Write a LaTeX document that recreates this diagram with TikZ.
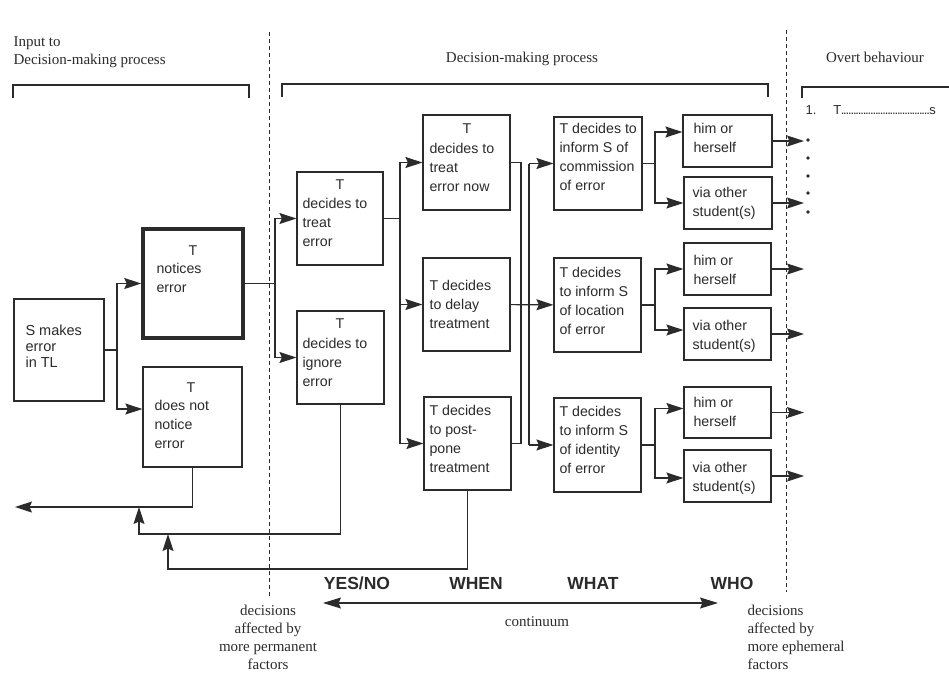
\documentclass[tikz,border=0pt]{standalone}
\usepackage{fontspec}
\setmainfont{Liberation Serif}
\setsansfont{Liberation Sans}
\usetikzlibrary{arrows.meta}
\definecolor{ink}{HTML}{2B2B2B}
\newcommand\bxfont{\sffamily\fontsize{14.2}{19.3}\selectfont}
\newcommand\hdfont{\rmfamily\fontsize{15}{18.3}\selectfont}
\newcommand\lbfont{\sffamily\bfseries\fontsize{17.5}{20}\selectfont}
\newcommand\lns[1]{\begin{tabular}[t]{@{}l@{}}#1\end{tabular}}
\newcommand\clns[1]{\begin{tabular}[t]{@{}c@{}}#1\end{tabular}}
\begin{document}
\begin{tikzpicture}[x=1pt,y=-1pt,line width=1.1pt,
  box/.style={draw=ink,line width=1.2pt,inner sep=0pt},
  txt/.style={anchor=base west,inner sep=0pt,text=ink,font=\bxfont},
  tc/.style={anchor=base,inner sep=0pt,text=ink,font=\bxfont},
  hdr/.style={inner sep=0pt,text=ink,font=\hdfont},
  lab/.style={anchor=base,inner sep=0pt,text=ink,font=\lbfont},
  con/.style={draw=ink,line width=1.1pt},
  arr/.style={con,-{Stealth[length=17pt,width=11pt,inset=2.5pt]}},
  darr/.style={con,{Stealth[length=18pt,width=11pt,inset=2.5pt]}-{Stealth[length=18pt,width=11pt,inset=2.5pt]}},
  sep/.style={draw=ink,line width=1pt,dash pattern=on 4pt off 3pt}]
\fill[white] (0,0) rectangle (949,673);
\useasboundingbox (0,0) rectangle (949,673);

% headers
\node[hdr,anchor=base west] (h1) at (13,46) {\lns{Input to\\Decision-making process}};
\node[hdr,anchor=base] (h2) at (522,62) {Decision-making process};
\node[hdr,anchor=base] (h3) at (875,62) {Overt behaviour};
\draw[con] (13,98) -- (13,85) -- (249,85) -- (249,98);
\draw[con] (282,97) -- (282,84) -- (768,84) -- (768,97);
\draw[con] (802,98) -- (802,87) -- (949,87);
\node[anchor=base west,inner sep=0pt,text=ink,font=\sffamily\fontsize{13}{15}\selectfont] (ob) at (805,114)
  {1.\hspace{17pt}T\makebox[88pt]{\xleaders\hbox to 2.4pt{\hss.\hss}\hfill}s};
\foreach \yy in {140,158,176,193,212} \fill[ink] (808,\yy) circle (1.8);

% separators
\draw[sep] (269,32) -- (269,597);
\draw[sep] (786,30) -- (786,592);

% boxes
\node[box,minimum width=90pt,minimum height=102pt] (smakes) at (59,350) {};
\node[box,line width=3.5pt,minimum width=100pt,minimum height=109pt] (notices) at (193,283.5) {};
\node[box,minimum width=99pt,minimum height=100pt] (doesnot) at (192.5,417) {};
\node[box,minimum width=86pt,minimum height=93pt] (treat) at (340,218.5) {};
\node[box,minimum width=87pt,minimum height=93pt] (ignore) at (340.5,357.5) {};
\node[box,minimum width=87pt,minimum height=95pt] (now) at (466.5,162.5) {};
\node[box,minimum width=87pt,minimum height=93pt] (delay) at (466.5,304.5) {};
\node[box,minimum width=87pt,minimum height=93pt] (post) at (467.5,443.5) {};
\node[box,minimum width=88pt,minimum height=93pt] (com) at (598,163.5) {};
\node[box,minimum width=87pt,minimum height=94pt] (loc) at (597.5,305) {};
\node[box,minimum width=87pt,minimum height=94pt] (ident) at (597.5,445) {};
\node[box,minimum width=89pt,minimum height=52pt] (him1) at (727.5,141) {};
\node[box,minimum width=88pt,minimum height=52pt] (via1) at (728,203) {};
\node[box,minimum width=87pt,minimum height=52pt] (him2) at (727.5,269) {};
\node[box,minimum width=87pt,minimum height=52pt] (via2) at (727.5,334) {};
\node[box,minimum width=87pt,minimum height=51pt] (him3) at (727.5,412.5) {};
\node[box,minimum width=87pt,minimum height=52pt] (via3) at (727.5,476) {};

% box texts
\node[txt,font=\sffamily\fontsize{14.5}{16.2}\selectfont] (smakes-t) at (25,335) {\lns{S makes\\error\\in TL}};
\node[tc] (notices-T) at (193,255) {T};
\node[txt] (notices-t) at (156,273) {\lns{notices\\error}};
\node[tc] (doesnot-T) at (191,392) {T};
\node[txt] (doesnot-t) at (154,410) {\lns{does not\\notice\\error}};
\node[tc] (treat-T) at (340,189) {T};
\node[txt] (treat-t) at (302,208) {\lns{decides to\\treat\\error}};
\node[tc] (ignore-T) at (340,328) {T};
\node[txt] (ignore-t) at (302,348) {\lns{decides to\\ignore\\error}};
\node[tc] (now-T) at (467,133) {T};
\node[txt] (now-t) at (429,153) {\lns{decides to\\treat\\error now}};
\node[txt] (delay-t) at (429,290) {\lns{T decides\\to delay\\treatment}};
\node[txt] (post-t) at (429,415) {\lns{T decides\\to post-\\pone\\treatment}};
\node[txt] (com-t) at (559,133) {\lns{T decides to\\inform S of\\commission\\of error}};
\node[txt] (loc-t) at (559,277) {\lns{T decides\\to inform S\\of location\\of error}};
\node[txt] (ident-t) at (559,416) {\lns{T decides\\to inform S\\of identity\\of error}};
\node[txt] (him1-t) at (693,133) {\lns{him or\\herself}};
\node[txt] (via1-t) at (692,197) {\lns{via other\\student(s)}};
\node[txt] (him2-t) at (693,265) {\lns{him or\\herself}};
\node[txt] (via2-t) at (692,330) {\lns{via other\\student(s)}};
\node[txt] (him3-t) at (693,407) {\lns{him or\\herself}};
\node[txt] (via3-t) at (692,472) {\lns{via other\\student(s)}};

% junction coordinates
\coordinate (j1) at (117,350);
\coordinate (j2) at (275,283.5);
\coordinate (j3) at (400,218.5);
\coordinate (m1) at (521,162.5);
\coordinate (m2) at (521,443.5);
\coordinate (s1) at (529,163.5);
\coordinate (s2) at (529,445);
\coordinate (k1) at (655,163.5);
\coordinate (k2) at (655,305);
\coordinate (k3) at (655,445);
\coordinate (o1) at (804,141);
\coordinate (o2) at (804,203);
\coordinate (o3) at (804,269);
\coordinate (o4) at (804,334);
\coordinate (o5) at (804,412.5);
\coordinate (o6) at (804,476);
\coordinate (fb1) at (15,507);
\coordinate (fb2) at (139,534);
\coordinate (fb3) at (168,569);

% connectors
\draw[con] (smakes) -- (j1);
\draw[arr] (j1) |- (notices);
\draw[arr] (j1) |- ([yshift=8pt]doesnot.west);
\draw[con] (notices) -- (j2);
\draw[arr] (j2) |- (treat);
\draw[arr] (j2) |- (ignore);
\draw[con] (treat) -- (j3);
\draw[arr] (j3) |- (now);
\draw[arr] (j3) |- (delay);
\draw[arr] (j3) |- (post);
\draw[con] (now) -- (m1) -- (m2) -- (post);
\draw[arr] (delay) -- (loc);
\draw[con] (s1) -- (s2);
\draw[arr] (s1) -- (com);
\draw[arr] (s2) -- (ident);
\draw[con] (com) -- (k1);
\draw[arr] (k1) |- ([yshift=9pt]him1.west);
\draw[arr] (k1) |- (via1);
\draw[con] (loc) -- (k2);
\draw[arr] (k2) |- (him2);
\draw[arr] (k2) |- ([yshift=4pt]via2.west);
\draw[con] (ident) -- (k3);
\draw[arr] (k3) |- ([yshift=4pt]him3.west);
\draw[arr] (k3) |- ([yshift=-2pt]via3.west);
\draw[arr] (him1) -- (o1);
\draw[arr] (via1) -- (o2);
\draw[arr] (him2) -- (o3);
\draw[arr] (via2) -- (o4);
\draw[arr] (him3) -- (o5);
\draw[arr] (via3) -- (o6);

% feedback loops
\draw[arr] (doesnot.south) |- (fb1);
\draw[arr] (ignore.south) |- (fb2) -- (fb2 |- fb1);
\draw[arr] (post.south) |- (fb3) -- (fb3 |- fb2);

% bottom labels
\node[lab] (yn) at (357,589) {YES/NO};
\node[lab] (when) at (476,589) {WHEN};
\node[lab] (what) at (593,589) {WHAT};
\node[lab] (who) at (732,589) {WHO};
\coordinate (cl) at (323,603);
\coordinate (cr) at (718,603);
\draw[darr] (cl) -- (cr);
\node[hdr,anchor=base] (cont) at (537,626) {continuum};
\node[hdr,anchor=base] (perm) at (268,615) {\clns{decisions\\affected by\\more permanent\\factors}};
\node[hdr,anchor=base west] (ephem) at (747,615) {\lns{decisions\\affected by\\more ephemeral\\factors}};
\end{tikzpicture}
\end{document}
